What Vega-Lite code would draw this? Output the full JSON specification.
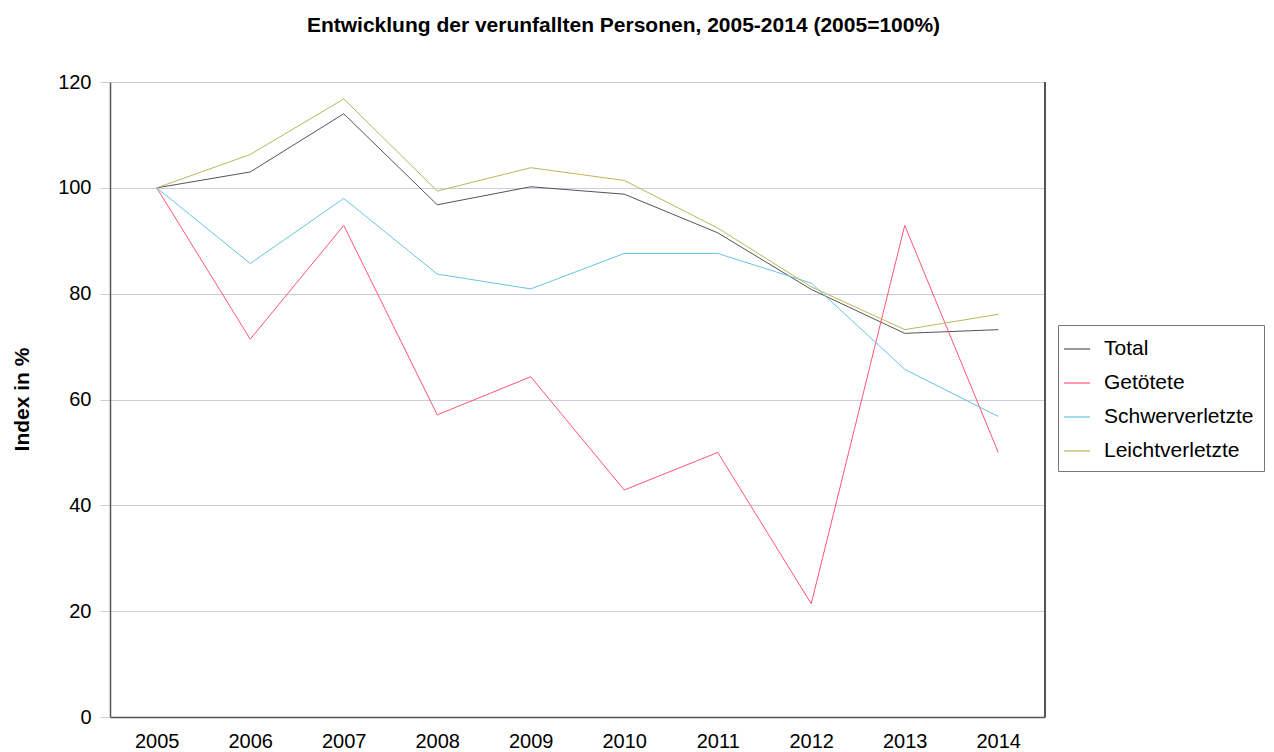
{
  "$schema": "https://vega.github.io/schema/vega-lite/v6.json",
  "width": 935,
  "height": 635,
  "autosize": {"type": "none"},
  "padding": {"left": 110, "top": 82, "right": 229, "bottom": 35},
  "background": "white",
  "config": {
    "font": "Liberation Sans",
    "view": {"stroke": null},
    "axis": {"labelFont": "Liberation Sans", "titleFont": "Liberation Sans"},
    "legend": {"labelFont": "Liberation Sans"}
  },
  "title": {
    "text": "Entwicklung der verunfallten Personen, 2005-2014 (2005=100%)",
    "font": "Liberation Sans",
    "fontSize": 21,
    "fontWeight": "bold",
    "color": "black",
    "anchor": "middle",
    "dx": 46,
    "offset": 36
  },
  "data": {
    "values": [
      {"Jahr": "2005", "Kategorie": "Total", "Index": 100},
      {"Jahr": "2006", "Kategorie": "Total", "Index": 103.0},
      {"Jahr": "2007", "Kategorie": "Total", "Index": 114.0},
      {"Jahr": "2008", "Kategorie": "Total", "Index": 96.8},
      {"Jahr": "2009", "Kategorie": "Total", "Index": 100.2},
      {"Jahr": "2010", "Kategorie": "Total", "Index": 98.8},
      {"Jahr": "2011", "Kategorie": "Total", "Index": 91.5},
      {"Jahr": "2012", "Kategorie": "Total", "Index": 80.8},
      {"Jahr": "2013", "Kategorie": "Total", "Index": 72.5},
      {"Jahr": "2014", "Kategorie": "Total", "Index": 73.2},
      {"Jahr": "2005", "Kategorie": "Getötete", "Index": 100},
      {"Jahr": "2006", "Kategorie": "Getötete", "Index": 71.4},
      {"Jahr": "2007", "Kategorie": "Getötete", "Index": 92.9},
      {"Jahr": "2008", "Kategorie": "Getötete", "Index": 57.1},
      {"Jahr": "2009", "Kategorie": "Getötete", "Index": 64.3},
      {"Jahr": "2010", "Kategorie": "Getötete", "Index": 42.9},
      {"Jahr": "2011", "Kategorie": "Getötete", "Index": 50.0},
      {"Jahr": "2012", "Kategorie": "Getötete", "Index": 21.4},
      {"Jahr": "2013", "Kategorie": "Getötete", "Index": 92.9},
      {"Jahr": "2014", "Kategorie": "Getötete", "Index": 50.0},
      {"Jahr": "2005", "Kategorie": "Schwerverletzte", "Index": 100},
      {"Jahr": "2006", "Kategorie": "Schwerverletzte", "Index": 85.7},
      {"Jahr": "2007", "Kategorie": "Schwerverletzte", "Index": 98.0},
      {"Jahr": "2008", "Kategorie": "Schwerverletzte", "Index": 83.7},
      {"Jahr": "2009", "Kategorie": "Schwerverletzte", "Index": 80.9},
      {"Jahr": "2010", "Kategorie": "Schwerverletzte", "Index": 87.6},
      {"Jahr": "2011", "Kategorie": "Schwerverletzte", "Index": 87.6},
      {"Jahr": "2012", "Kategorie": "Schwerverletzte", "Index": 82.0},
      {"Jahr": "2013", "Kategorie": "Schwerverletzte", "Index": 65.7},
      {"Jahr": "2014", "Kategorie": "Schwerverletzte", "Index": 56.8},
      {"Jahr": "2005", "Kategorie": "Leichtverletzte", "Index": 100},
      {"Jahr": "2006", "Kategorie": "Leichtverletzte", "Index": 106.3},
      {"Jahr": "2007", "Kategorie": "Leichtverletzte", "Index": 116.8},
      {"Jahr": "2008", "Kategorie": "Leichtverletzte", "Index": 99.4},
      {"Jahr": "2009", "Kategorie": "Leichtverletzte", "Index": 103.8},
      {"Jahr": "2010", "Kategorie": "Leichtverletzte", "Index": 101.4},
      {"Jahr": "2011", "Kategorie": "Leichtverletzte", "Index": 92.4},
      {"Jahr": "2012", "Kategorie": "Leichtverletzte", "Index": 81.3},
      {"Jahr": "2013", "Kategorie": "Leichtverletzte", "Index": 73.2},
      {"Jahr": "2014", "Kategorie": "Leichtverletzte", "Index": 76.1}
    ]
  },
  "layer": [
    {
      "mark": {"type": "rule", "stroke": "#555555", "strokeWidth": 1.5},
      "encoding": {"x": {"value": 935}, "y": {"value": 0}, "y2": {"value": 635}}
    },
    {
      "mark": {"type": "line", "strokeWidth": 1},
      "encoding": {
        "x": {
          "field": "Jahr",
          "type": "ordinal",
          "scale": {"type": "point", "padding": 0.5},
          "axis": {
            "title": null,
            "labelAngle": 0,
            "labelFontSize": 20,
            "labelColor": "black",
            "labelPadding": 14,
            "ticks": false,
            "domainColor": "#555555",
            "domainWidth": 1.5,
            "grid": false
          }
        },
        "y": {
          "field": "Index",
          "type": "quantitative",
          "scale": {"domain": [0, 120], "nice": false},
          "axis": {
            "title": "Index in %",
            "titleFontSize": 21,
            "titleFontWeight": "bold",
            "titleColor": "black",
            "titleX": -88,
            "titleY": 317,
            "titleAngle": -90,
            "titleBaseline": "middle",
            "values": [0, 20, 40, 60, 80, 100, 120],
            "labelFontSize": 20,
            "labelColor": "black",
            "labelPadding": 9,
            "ticks": true,
            "tickSize": 10,
            "tickColor": "#ccccdd",
            "domainColor": "#555555",
            "domainWidth": 1.5,
            "gridColor": "#ccccdd",
            "gridWidth": 1
          }
        },
        "color": {
          "field": "Kategorie",
          "type": "nominal",
          "sort": ["Total", "Getötete", "Schwerverletzte", "Leichtverletzte"],
          "scale": {
            "domain": ["Total", "Getötete", "Schwerverletzte", "Leichtverletzte"],
            "range": ["#555555", "#ff5577", "#66c4e4", "#b8b85a"]
          },
          "legend": {
            "title": null,
            "orient": "none",
            "legendX": 948,
            "legendY": 243,
            "symbolSize": 676,
            "symbolStrokeWidth": 1.2,
            "symbolOffset": -5,
            "labelFontSize": 21,
            "labelColor": "black",
            "labelOffset": 13,
            "rowPadding": 10,
            "padding": 10,
            "strokeColor": "#777777",
            "fillColor": "white",
            "labelLimit": 300
          }
        }
      }
    }
  ]
}
